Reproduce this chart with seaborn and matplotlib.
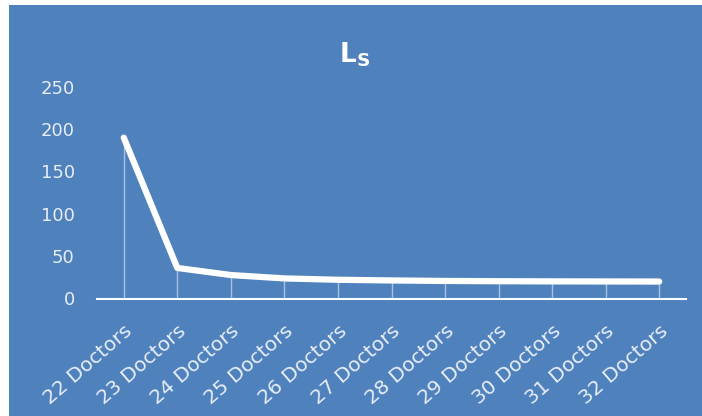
import numpy as np
import pandas as pd
import seaborn as sns
import matplotlib.pyplot as plt
from matplotlib.patches import Rectangle

doctors = ["22 Doctors", "23 Doctors", "24 Doctors", "25 Doctors", "26 Doctors", "27 Doctors",
           "28 Doctors", "29 Doctors", "30 Doctors", "31 Doctors", "32 Doctors"]
ls_values = [190, 35.6, 27.2, 23.2, 21.6, 20.8, 20.2, 19.9, 19.7, 19.6, 19.5]
yticks = [0, 50, 100, 150, 200, 250]

bg = "#4F81BD"
txt = "#E6EDF6"

sns.set_style("white")
plt.rcParams['font.family'] = ['DejaVu Sans']

fig = plt.figure(figsize=(7.02, 4.16), dpi=100)
fig.patches.append(Rectangle((9 / 702, 0), 1, (416 - 5) / 416, transform=fig.transFigure,
                             facecolor=bg, edgecolor="none", zorder=-10))
ax = fig.add_axes([97 / 702, (416 - 298) / 416, (686 - 97) / 702, (298 - 87) / 416])
ax.set_zorder(1)
ax.set_facecolor("none")
for s in ["top", "right", "left"]:
    ax.spines[s].set_visible(False)
ax.spines["bottom"].set_color("white")
ax.spines["bottom"].set_linewidth(1.5)
ax.spines["bottom"].set_position(("outward", 1))

df = pd.DataFrame({"doctors": doctors, "Ls": ls_values})
pos = np.arange(len(doctors))
ax.vlines(pos, 0, df["Ls"], color="white", lw=1, alpha=0.5, zorder=1)
sns.lineplot(data=df, x="doctors", y="Ls", ax=ax, color="white", lw=4.5,
             solid_capstyle="round", solid_joinstyle="round", zorder=3, sort=False)

ax.set_xlim(-0.5, len(doctors) - 0.5)
ax.set_ylim(0, 250)
ax.set_yticks(yticks)
ax.set_xticks(pos, labels=doctors, rotation=41, ha="right", va="top", rotation_mode="anchor")
ax.tick_params(axis="x", length=0, pad=16, labelsize=14.5, colors=txt)
ax.tick_params(axis="y", length=0, pad=16, labelsize=13, colors=txt)
ax.set_xlabel("")
ax.set_ylabel("")

fig.text(355 / 702, 1 - 55 / 416, r"$\mathbf{L_S}$", color="white", fontsize=19,
         ha="center", va="center", zorder=5)

fig.savefig("out.png", dpi=100)
